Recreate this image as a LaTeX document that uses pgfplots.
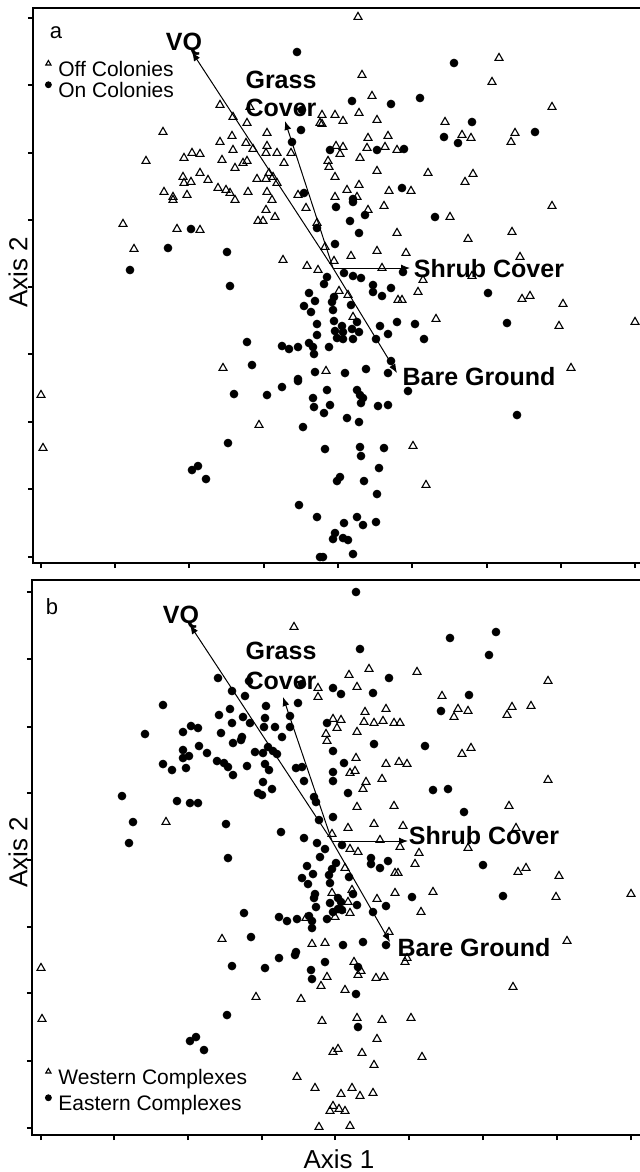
\documentclass[border=0pt]{standalone}
\usepackage{fontspec}
\setmainfont{Liberation Sans}
\usepackage{pgfplots}
\pgfplotsset{compat=1.18}
\usetikzlibrary{arrows.meta}

% data are in pixel units of the original figure (y grows downwards)
\pgfplotsset{
  ordin/.style={
    scale only axis, clip=false, y dir=reverse,
    xticklabels={}, yticklabels={},
    tick align=outside, tick pos=left,
    major tick length=2.5pt,
    tick style={black, line width=0.6pt},
    axis line style={line width=1pt},
    legend style={draw=none, fill=none, inner sep=0pt,
      font=\fontsize{10.5}{12}\selectfont, cells={anchor=west},
      /tikz/every odd column/.append style={column sep=1.5pt}},
    legend image code/.code={\draw[##1, mark size=1.5pt] plot coordinates {(0pt,3.5pt)};},
  },
  off/.style={only marks, mark=triangle, mark size=2.3pt,
    mark options={draw=black, fill=white, line width=0.55pt}},
  on/.style={only marks, mark=*, mark size=1.95pt,
    mark options={draw=black, fill=black}},
  vec/.style={black, line width=0.5pt, forget plot,
    -{Latex[length=4.5pt,width=3.5pt]}},
}
\tikzset{lbl/.style={font=\bfseries\fontsize{12.5}{14}\selectfont, inner sep=0pt, align=center}}

\begin{document}
\begin{tikzpicture}
\path[use as bounding box] (0,0) rectangle (319.5pt,-586pt);

% ---------------- panel a ----------------
\begin{axis}[ordin, at={(16.5pt,-4pt)}, anchor=north west,
  width=304pt, height=277.5pt,
  xmin=33, xmax=641, ymin=8, ymax=563,
  xtick={41,115,189,264,338,412,487,561,635},
  ytick={18,85,153,220,287,354,422,489,557},
  legend style={at={(axis cs:45,57)}, anchor=north west, row sep=-2.5pt}]
\addplot[off] coordinates {
(220,105)(233,117)(247,123)(250,107)(163,132)(220,142)(232,136)(246,143)(267,133)(267,146)
(233,150)(253,149)(266,153)(277,153)(291,153)(146,161)(184,158)(192,153)(200,154)(222,160)
(247,161)(243,163)(235,168)(284,163)(183,177)(184,183)(191,182)(200,173)(208,180)(257,179)
(266,179)(269,173)(273,177)(277,183)(218,188)(226,190)(230,193)(248,192)(267,192)(164,192)
(173,197)(187,195)(298,195)(320,123)
(358,17)(499,58)(492,82)(362,75)(372,96)(552,107)(322,115)(335,115)(322,124)(343,121)
(359,113)(377,120)(445,122)(462,135)(471,138)(515,133)(511,142)(368,138)(388,136)(336,146)
(343,147)(367,148)(385,147)(397,150)(340,154)(360,158)(328,161)(329,167)(377,171)(428,173)
(335,177)(473,174)(465,182)(359,185)(347,190)(389,191)(411,191)(335,197)(357,197)
(173,200)(235,200)(272,200)(266,210)(275,217)(306,208)(258,221)(263,221)(123,224)(177,229)
(200,230)(134,249)(283,260)(307,266)(317,223)(318,270)(223,368)
(368,210)(384,206)(450,217)(552,206)(397,233)(468,239)(512,232)(325,247)(351,256)(377,251)
(406,253)(520,257)(334,261)(382,268)(423,280)(472,276)(418,292)(398,300)(402,300)
(339,291)(348,295)(522,299)(530,296)(563,304)(353,317)(436,319)(635,322)(559,326)(326,371)
(571,368)(41,395)(43,448)(259,425)(413,446)(426,485)
};
\addlegendentry{Off Colonies}
\addplot[on] coordinates {
(297,52)(302,110)(301,130)(292,142)(304,193)
(454,63)(352,101)(391,104)(420,98)(472,122)(535,132)(444,137)(458,143)(330,150)(377,150)
(404,149)(402,188)(353,199)
(191,229)(168,248)(130,270)(227,252)(230,286)(317,228)(309,293)(315,301)(304,306)(311,312)
(317,324)(317,335)(247,342)(282,346)(289,349)(298,347)(309,343)(313,347)(314,354)(252,365)
(315,372)(298,379)
(336,207)(353,202)(350,221)(365,215)(435,217)(359,233)(335,244)(344,273)(353,276)(361,278)
(327,277)(324,284)(403,272)(373,285)(373,292)(382,296)(391,288)(488,293)(334,297)(332,302)
(351,305)(333,310)(334,321)(357,322)(342,326)(335,331)(343,332)(352,329)(359,332)(337,338)
(343,339)(353,339)(329,347)(380,326)(397,322)(415,324)(388,334)(376,339)(424,339)(507,323)
(391,361)(345,373)(366,369)(388,373)
(234,394)(267,395)(282,387)(298,381)(313,398)(314,407)(303,427)(228,443)(192,470)(198,466)
(206,479)(299,505)(317,517)(320,557)
(327,390)(357,390)(360,395)(363,398)(361,403)(330,405)(324,413)(347,418)(359,422)(378,406)
(388,405)(408,391)(517,415)(325,449)(360,447)(361,456)(384,448)(379,468)(337,481)(340,477)
(364,481)(377,494)(357,517)(344,523)(363,525)(376,522)(335,533)(333,539)(343,538)(348,540)
(353,554)(323,557)
};
\addlegendentry{On Colonies}
\addplot[vec] coordinates {(333,268) (192,52)};
\addplot[vec] coordinates {(333,268) (285,121)};
\addplot[vec] coordinates {(333,268) (410,268)};
\addplot[vec] coordinates {(333,268) (397,373)};
\node[lbl] at (axis cs:184,44) {VQ};
\node[lbl] at (axis cs:281,94) {Grass\\Cover};
\node[lbl] at (axis cs:489,269) {Shrub Cover};
\node[lbl] at (axis cs:479,377) {Bare Ground};
\node[font=\fontsize{11}{12}\selectfont] at (axis cs:56,33) {a};
\end{axis}

% ---------------- panel b ----------------
\begin{axis}[ordin, at={(16pt,-290pt)}, anchor=north west,
  width=304.5pt, height=277.5pt,
  xmin=32, xmax=641, ymin=580, ymax=1135,
  xtick={41,114,188,262,335,409,483,557,631},
  ytick={592,659,727,793,860,927,993,1061,1128},
  legend style={at={(axis cs:45,1065)}, anchor=north west, row sep=0pt}]
\addplot[off] coordinates {
(294,627)(318,688)(318,697)
(349,675)(369,669)(417,672)(548,681)(357,687)(442,696)(458,709)(468,711)(454,717)(512,707)
(507,715)(531,706)(365,712)(386,709)(333,719)(341,720)(337,728)(364,722)(374,723)(383,721)
(394,723)(400,723)(326,734)(327,741)(357,732)(462,754)(471,748)(356,758)(386,764)(399,762)
(407,764)(350,773)(355,771)
(166,822)(222,939)(306,918)(312,944)
(366,782)(382,779)(363,789)(548,780)(357,807)(394,806)(509,806)(348,828)(374,824)(403,826)
(516,828)(332,834)(380,840)(400,847)(350,849)(358,852)(468,848)(419,853)(415,864)(345,868)
(395,873)(398,873)(518,872)(526,868)(559,876)(332,893)(352,890)(395,893)(433,892)(377,899)
(348,902)(350,913)(335,917)(341,910)(421,912)(556,897)(631,894)(389,932)(325,943)(567,941)
(41,968)(42,1019)(256,997)(301,999)(297,1077)(315,1088)
(354,962)(405,962)(407,958)(327,977)(358,975)(361,971)(376,978)(384,977)(321,986)(345,990)
(513,987)(322,1021)(357,1018)(382,1020)(411,1018)(377,1039)(333,1052)(338,1049)(362,1053)
(422,1057)(374,1065)(341,1094)(352,1088)(360,1096)(373,1093)(333,1106)(330,1111)(339,1109)
(345,1111)(319,1127)(350,1126)
};
\addlegendentry{Western Complexes}
\addplot[on] coordinates {
(218,678)(232,691)(245,696)(249,681)(302,684)(298,703)(290,716)(290,727)(282,737)(163,705)
(219,715)(230,709)(232,723)(243,717)(250,723)(266,706)(265,718)(264,727)(275,727)(145,734)
(183,732)(191,726)(198,728)(221,733)(242,737)(241,740)(233,743)(183,750)(183,758)(189,756)
(199,746)(207,753)(255,752)(263,753)(268,747)(273,751)(277,754)(217,761)(224,763)(228,767)
(247,766)(265,764)(269,770)(163,764)(172,770)(186,768)(296,768)(302,767)
(356,592)(450,638)(496,632)(489,655)(360,649)(389,678)(333,688)(341,694)(373,693)(469,695)
(441,711)(327,723)(333,751)(374,744)(425,746)(344,763)(333,772)
(122,796)(133,822)(129,843)(177,801)(190,803)(198,803)(226,824)(228,858)(233,775)(258,793)
(262,795)(263,782)(272,789)(304,781)(314,797)(316,802)(319,820)(281,832)(304,838)(317,843)
(320,857)(307,866)(313,874)(302,878)(308,884)(315,894)(314,898)(316,907)(244,913)(279,917)
(287,921)(297,919)(309,916)(312,921)(312,928)(251,937)(296,952)
(333,781)(348,793)(433,790)(448,789)(464,812)(333,817)(342,845)(325,849)(336,863)(371,858)
(371,864)(380,868)(388,861)(483,865)(332,869)(329,875)(349,877)(330,883)(353,894)(412,897)
(503,896)(338,898)(330,903)(341,902)(357,905)(338,909)(333,912)(342,910)(327,919)(373,912)
(386,906)(343,945)(363,942)(386,945)
(232,966)(265,968)(279,958)(295,955)(311,970)(312,979)(227,1015)(190,1041)(196,1037)(204,1050)
(325,962)(358,967)(356,994)(358,1027)
};
\addlegendentry{Eastern Complexes}
\addplot[vec] coordinates {(332,841) (190,625)};
\addplot[vec] coordinates {(332,841) (283,697)};
\addplot[vec] coordinates {(332,841) (408,841)};
\addplot[vec] coordinates {(332,841) (390,942)};
\node[lbl] at (axis cs:181,617) {VQ};
\node[lbl, font=\bfseries\fontsize{12.5}{15}\selectfont] at (axis cs:281,666) {Grass\\Cover};
\node[lbl] at (axis cs:484,836) {Shrub Cover};
\node[lbl] at (axis cs:474,948) {Bare Ground};
\node[font=\fontsize{11}{12}\selectfont] at (axis cs:52,607) {b};
\end{axis}

\node[rotate=90, font=\fontsize{13}{15}\selectfont] at (9pt,-136pt) {Axis 2};
\node[rotate=90, font=\fontsize{13}{15}\selectfont] at (9pt,-426pt) {Axis 2};
\node[inner sep=0pt, font=\fontsize{13}{15}\selectfont] at (169.5pt,-579.5pt) {Axis 1};
\end{tikzpicture}
\end{document}
